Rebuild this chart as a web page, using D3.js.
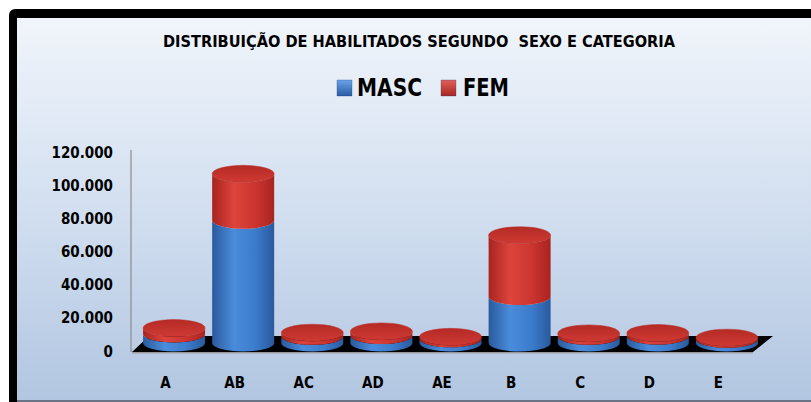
<!DOCTYPE html>
<html>
<head>
<meta charset="utf-8">
<script src="https://cdn.jsdelivr.net/npm/d3@7"></script>
<style>
  html, body { margin: 0; padding: 0; background: #ffffff; }
  svg { display: block; }
  .lbl { font-family: "DejaVu Sans Condensed", "DejaVu Sans", sans-serif; font-weight: bold; fill: #000; }
</style>
</head>
<body>
<svg id="chart" width="811" height="402"></svg>
<script>
// Licensed drivers by category, split by sex
const categories = ["A", "AB", "AC", "AD", "AE", "B", "C", "D", "E"];
const masc = [5500, 74000, 4000, 4500, 2500, 28000, 4000, 4200, 2200];
const fem  = [3500, 28000, 2200, 2500, 1200, 37000, 1800, 1800, 1000];
const seriesNames = ["MASC", "FEM"];
const yTicks = [0, 20000, 40000, 60000, 80000, 100000, 120000];
const titleText = "DISTRIBUIÇÃO DE HABILITADOS SEGUNDO  SEXO E CATEGORIA";

const svg = d3.select("#chart");
const W = 811, H = 402;
const defs = svg.append("defs");

// background panel gradient
const bg = defs.append("linearGradient").attr("id", "bgGrad")
  .attr("x1", 0).attr("y1", 0).attr("x2", 0).attr("y2", 1);
bg.append("stop").attr("offset", "0%").attr("stop-color", "#f1f5fb");
bg.append("stop").attr("offset", "50%").attr("stop-color", "#d2dff0");
bg.append("stop").attr("offset", "100%").attr("stop-color", "#b2c6e1");

// cylinder side shading (horizontal)
function sideGrad(id, edge, mid, light) {
  const g = defs.append("linearGradient").attr("id", id)
    .attr("x1", 0).attr("y1", 0).attr("x2", 1).attr("y2", 0);
  g.append("stop").attr("offset", "0%").attr("stop-color", edge);
  g.append("stop").attr("offset", "35%").attr("stop-color", light);
  g.append("stop").attr("offset", "70%").attr("stop-color", mid);
  g.append("stop").attr("offset", "100%").attr("stop-color", edge);
}
sideGrad("sideMASC", "#2a5a9c", "#3b7bcc", "#4a8cdc");
sideGrad("sideFEM", "#a8241f", "#cc3430", "#dc443c");

const capGrad = defs.append("linearGradient").attr("id", "capFEM")
  .attr("x1", 0).attr("y1", 0).attr("x2", 0).attr("y2", 1);
capGrad.append("stop").attr("offset", "0%").attr("stop-color", "#b52a25");
capGrad.append("stop").attr("offset", "100%").attr("stop-color", "#cf3a33");

function legGrad(id, top, bot) {
  const g = defs.append("linearGradient").attr("id", id)
    .attr("x1", 0).attr("y1", 0).attr("x2", 0).attr("y2", 1);
  g.append("stop").attr("offset", "0%").attr("stop-color", top);
  g.append("stop").attr("offset", "100%").attr("stop-color", bot);
}
legGrad("legMASC", "#6aa4e8", "#2a5ca2");
legGrad("legFEM", "#e0605a", "#a8261f");

// frame
svg.append("rect").attr("x", 9).attr("y", 9).attr("width", W + 20).attr("height", H + 20)
  .attr("rx", 6).attr("fill", "#000");
svg.append("rect").attr("x", 17).attr("y", 18).attr("width", W).attr("height", 382)
  .attr("fill", "url(#bgGrad)");
svg.append("line").attr("x1", 17).attr("x2", W).attr("y1", 401).attr("y2", 401)
  .attr("stroke", "#6a7486").attr("stroke-width", 2);

// title
svg.append("text").attr("class", "lbl")
  .attr("x", 419).attr("y", 47).attr("text-anchor", "middle")
  .attr("font-size", 15.5)
  .attr("textLength", 512).attr("lengthAdjust", "spacingAndGlyphs")
  .style("white-space", "pre")
  .text(titleText);

// legend
const legend = [
  { name: seriesNames[0], sq: 337, tx: 357, w: 65, fill: "url(#legMASC)" },
  { name: seriesNames[1], sq: 441, tx: 463, w: 46, fill: "url(#legFEM)" }
];
legend.forEach(l => {
  svg.append("rect").attr("x", l.sq).attr("y", 80).attr("width", 15).attr("height", 16)
    .attr("fill", l.fill).attr("stroke", "#1f3f70").attr("stroke-width", 0.3);
  svg.append("text").attr("class", "lbl").attr("x", l.tx).attr("y", 95.5)
    .attr("font-size", 24).attr("textLength", l.w).attr("lengthAdjust", "spacingAndGlyphs")
    .text(l.name);
});

// scales
const x = d3.scaleBand().domain(categories).range([131, 753]).paddingInner(0).paddingOuter(0);
const y = d3.scaleLinear().domain([0, 120000]).range([351, 152]);

// depth of the 3D floor
const depthX = 17, depthY = -16;

// y axis labels
const fmt = v => d3.format(",")(v).replace(/,/g, ".");
svg.append("g").selectAll("text").data(yTicks).join("text")
  .attr("class", "lbl").attr("font-size", 15)
  .attr("x", 113).attr("y", d => y(d) + 5.5).attr("text-anchor", "end")
  .text(fmt);

// axis line
svg.append("line").attr("x1", 131).attr("x2", 131).attr("y1", y(120000) - 2).attr("y2", y(0) + 1)
  .attr("stroke", "#8c8c8c").attr("stroke-width", 1.2);

// floor
const x0 = x.range()[0] + 1, x1 = x.range()[1], fy = y(0) + 1;
svg.append("path")
  .attr("d", `M${x0},${fy} L${x1},${fy} L${x1 + depthX + 3},${fy + depthY} L${x0 + depthX},${fy + depthY} Z`)
  .attr("fill", "#000");
svg.append("line").attr("x1", x0).attr("x2", x1).attr("y1", fy + 0.8).attr("y2", fy + 0.8)
  .attr("stroke", "#9a9a9a").attr("stroke-width", 1.5);

// x labels
svg.append("g").selectAll("text").data(categories).join("text")
  .attr("class", "lbl").attr("font-size", 15)
  .attr("x", d => x(d) + x.bandwidth() / 2).attr("y", 388).attr("text-anchor", "middle")
  .text(d => d);

// stacked cylinders
const rows = categories.map((c, i) => ({ cat: c, MASC: masc[i], FEM: fem[i] }));
const stack = d3.stack().keys(seriesNames)(rows);
const rx = 31, ry = 8.5;
const cxOf = c => x(c) + x.bandwidth() / 2 + depthX / 2;
const cyOf = v => y(v) + depthY / 2;

const bars = svg.append("g");
categories.forEach((c, i) => {
  const cx = cxOf(c);
  stack.forEach(s => {
    const d = s[i];
    const yb = cyOf(d[0]), yt = cyOf(d[1]);
    bars.append("path")
      .attr("d", `M${cx - rx},${yt} L${cx - rx},${yb} A${rx},${ry} 0 0 0 ${cx + rx},${yb} L${cx + rx},${yt} A${rx},${ry} 0 0 1 ${cx - rx},${yt} Z`)
      .attr("fill", `url(#side${s.key})`);
  });
  const top = stack[stack.length - 1][i][1];
  bars.append("ellipse").attr("cx", cx).attr("cy", cyOf(top))
    .attr("rx", rx).attr("ry", ry).attr("fill", "url(#capFEM)")
    .attr("stroke", "#b8302a").attr("stroke-width", 0.5);
});
</script>
</body>
</html>
